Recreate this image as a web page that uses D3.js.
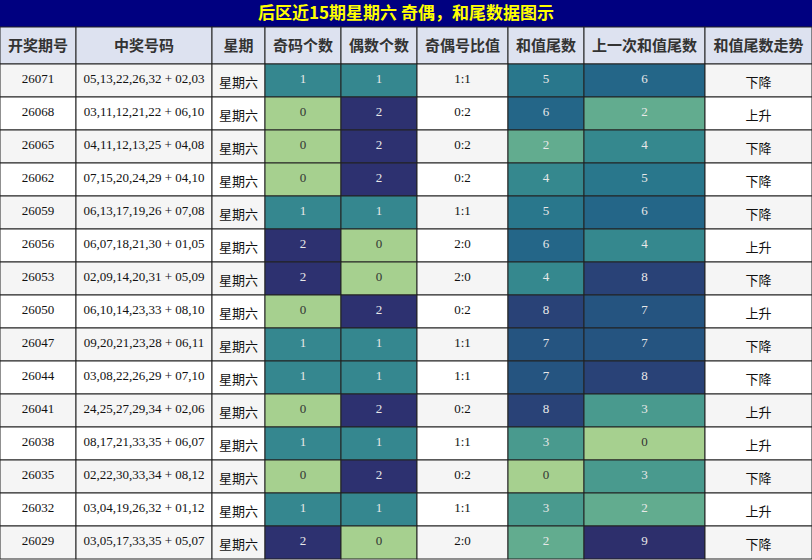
<!DOCTYPE html>
<html><head><meta charset="utf-8">
<script src="https://cdn.jsdelivr.net/npm/d3@7"></script>
<style>body{margin:0;background:#fff}</style>
</head><body>
<svg id="chart" width="812" height="560"></svg>
<script>
const title = '后区近15期星期六 奇偶，和尾数据图示';
const headers = ['开奖期号','中奖号码','星期','奇码个数','偶数个数','奇偶号比值','和值尾数','上一次和值尾数','和值尾数走势'];
const issues = ['26071','26068','26065','26062','26059','26056','26053','26050','26047','26044','26041','26038','26035','26032','26029'];
const numbers = ['05,13,22,26,32 + 02,03','03,11,12,21,22 + 06,10','04,11,12,13,25 + 04,08','07,15,20,24,29 + 04,10','06,13,17,19,26 + 07,08','06,07,18,21,30 + 01,05','02,09,14,20,31 + 05,09','06,10,14,23,33 + 08,10','09,20,21,23,28 + 06,11','03,08,22,26,29 + 07,10','24,25,27,29,34 + 02,06','08,17,21,33,35 + 06,07','02,22,30,33,34 + 08,12','03,04,19,26,32 + 01,12','03,05,17,33,35 + 05,07'];
const oddCount = [1,0,0,0,1,2,2,0,1,1,0,1,0,1,2];
const evenCount = [1,2,2,2,1,0,0,2,1,1,2,1,2,1,0];
const ratios = ['1:1','0:2','0:2','0:2','1:1','2:0','2:0','0:2','1:1','1:1','0:2','1:1','0:2','1:1','2:0'];
const sumTail = [5,6,2,4,5,6,4,8,7,7,8,3,0,3,2];
const prevTail = [6,2,4,5,6,4,8,7,7,8,3,0,3,2,9];
const trend = ['下降','上升','下降','下降','下降','上升','下降','上升','下降','下降','上升','上升','下降','上升','下降'];

const colEdges = [0,76,212,265,341,417,508,584,705,812];
const titleH = 27, headH = 37, rowH = 33;
const svg = d3.select('#chart');
const stops = ['#a6d08f','#67b08f','#3a8f8e','#24708c','#25517f','#2d2f6c'];
const colorFor = (dom) => {
  const s = d3.scaleLinear().domain(d3.range(stops.length).map(i => dom[0] + (dom[1]-dom[0])*i/(stops.length-1))).range(stops);
  return s;
};
const oddScale = d3.scaleOrdinal().domain([0,1,2]).range(['#a6d08f','#35878f','#2d3170']);
const tailScale = colorFor([0,9]);

svg.append('rect').attr('x',0).attr('y',0).attr('width',812).attr('height',titleH).attr('fill','#000080');
svg.append('text').attr('x',406).attr('y',titleH/2+1).attr('text-anchor','middle').attr('dominant-baseline','middle')
  .attr('fill','#ffff00').attr('font-family','Noto Sans CJK SC').attr('font-weight','bold').attr('font-size',17).text(title);

const cols = d3.range(9);
const hg = svg.append('g').attr('transform',`translate(0,${titleH})`);
hg.selectAll('rect').data(cols).join('rect')
  .attr('x',i=>colEdges[i]).attr('y',0).attr('width',i=>colEdges[i+1]-colEdges[i]).attr('height',headH)
  .attr('fill','#dde2f0').attr('stroke','#222').attr('stroke-width',1);
hg.selectAll('text').data(cols).join('text')
  .attr('x',i=>(colEdges[i]+colEdges[i+1])/2).attr('y',headH/2+1).attr('text-anchor','middle').attr('dominant-baseline','middle')
  .attr('font-family','Noto Sans CJK SC').attr('font-weight','bold').attr('font-size',15).attr('fill','#333').text(i=>headers[i]);

const rows = issues.map((d,i) => [
  {t:d},{t:numbers[i]},{t:'星期六',cjk:true},
  {t:oddCount[i],fill:oddScale(oddCount[i]),dark:oddCount[i]>0},
  {t:evenCount[i],fill:oddScale(evenCount[i]),dark:evenCount[i]>0},
  {t:ratios[i]},
  {t:sumTail[i],fill:tailScale(sumTail[i]),dark:sumTail[i]>0},
  {t:prevTail[i],fill:tailScale(prevTail[i]),dark:prevTail[i]>0},
  {t:trend[i],cjk:true}
]);
const y0 = titleH + headH;
const rg = svg.selectAll('g.row').data(rows).join('g').attr('class','row')
  .attr('transform',(d,i)=>`translate(0,${y0+i*rowH})`);
rg.each(function(r,ri){
  const g = d3.select(this);
  g.selectAll('rect').data(r).join('rect')
    .attr('x',(d,i)=>colEdges[i]).attr('y',0).attr('width',(d,i)=>colEdges[i+1]-colEdges[i]).attr('height',rowH)
    .attr('fill',d=>d.fill || (ri%2===0?'#f5f5f5':'#ffffff')).attr('stroke','#222').attr('stroke-width',1);
  g.selectAll('text').data(r).join('text')
    .attr('x',(d,i)=>(colEdges[i]+colEdges[i+1])/2).attr('y',d=>d.cjk?rowH/2+3:rowH/2)
    .attr('text-anchor','middle').attr('dominant-baseline','middle')
    .attr('font-family',d=>d.cjk?'Noto Sans CJK SC':'Liberation Serif').attr('font-size',d=>d.cjk?13:13)
    .attr('fill',d=>d.fill?(d.dark?'#e8e8e8':'#333'):'#111').text(d=>d.t);
});
</script>
</body></html>
